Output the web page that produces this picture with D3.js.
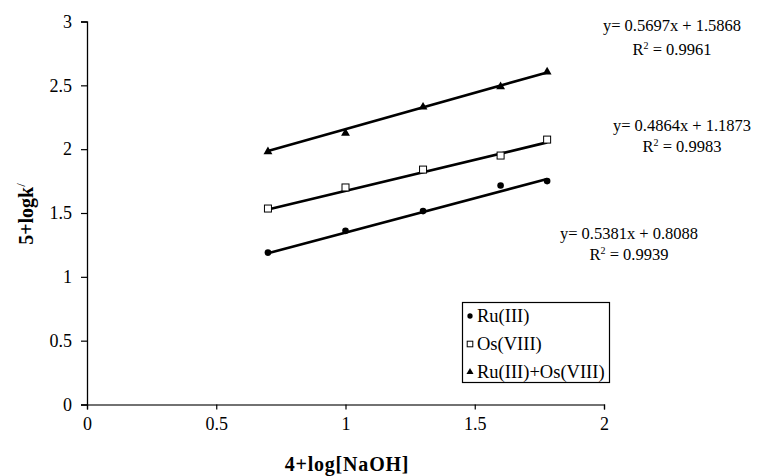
<!DOCTYPE html>
<html><head><meta charset="utf-8">
<script src="https://cdn.jsdelivr.net/npm/d3@7"></script>
<style>body{margin:0;background:#fff}svg{display:block}text{font-family:"Liberation Serif","Times New Roman",serif;fill:#000}</style>
</head><body><svg id="c" width="762" height="476"></svg>
<script>
const xValues = [0.7, 1.0, 1.3, 1.6, 1.78];
const ruIII = [1.19, 1.36, 1.515, 1.715, 1.75];
const osVIII = [1.535, 1.70, 1.84, 1.95, 2.075];
const ruOs = [1.98, 2.125, 2.33, 2.49, 2.605];
const seriesNames = ["Ru(III)", "Os(VIII)", "Ru(III)+Os(VIII)"];
const slopes = [0.5381, 0.4864, 0.5697];
const intercepts = [0.8088, 1.1873, 1.5868];
const eqLabels = ["y= 0.5381x + 0.8088", "y= 0.4864x + 1.1873", "y= 0.5697x + 1.5868"];
const r2Labels = ["0.9939", "0.9983", "0.9961"];
const xTicks = [0, 0.5, 1, 1.5, 2];
const yTicks = [0, 0.5, 1, 1.5, 2, 2.5, 3];

const svg = d3.select("#c");
const x = d3.scaleLinear().domain([0, 2]).range([87, 604]);
const y = d3.scaleLinear().domain([0, 3]).range([404.5, 21.5]);

const xAxis = svg.append("g").attr("transform", `translate(0,${y(0)})`)
  .call(d3.axisBottom(x).tickValues(xTicks).tickFormat(d => String(d)).tickSize(5).tickPadding(8));
const yAxis = svg.append("g").attr("transform", `translate(${x(0)},0)`)
  .call(d3.axisLeft(y).tickValues(yTicks).tickFormat(d => String(d)).tickSize(6).tickPadding(9));
[xAxis, yAxis].forEach(g => {
  g.select(".domain").attr("stroke", "#000").attr("stroke-width", 1.3);
  g.selectAll(".tick line").attr("stroke", "#000").attr("stroke-width", 1.2);
  g.selectAll(".tick text").attr("font-family", "Liberation Serif, serif").attr("font-size", 18).attr("fill", "#000");
});
xAxis.select(".domain").attr("stroke", "#444");

const data = [ruIII, osVIII, ruOs];
data.forEach((s, i) => {
  const x0 = d3.min(xValues), x1 = d3.max(xValues);
  svg.append("line")
    .attr("x1", x(x0)).attr("y1", y(slopes[i] * x0 + intercepts[i]))
    .attr("x2", x(x1)).attr("y2", y(slopes[i] * x1 + intercepts[i]))
    .attr("stroke", "#000").attr("stroke-width", 2.6);
});

function marker(g, type, cx, cy, k) {
  if (type === 0) g.append("circle").attr("cx", cx).attr("cy", cy).attr("r", 3.3 * k).attr("fill", "#000");
  else if (type === 1) g.append("rect").attr("x", cx - 3.5 * k).attr("y", cy - 3.5 * k).attr("width", 7 * k).attr("height", 7 * k).attr("fill", "#fff").attr("stroke", "#000").attr("stroke-width", 1);
  else g.append("path").attr("d", d3.symbol(d3.symbolTriangle, 34 * k * k)()).attr("transform", `translate(${cx},${cy})`).attr("fill", "#000");
}
data.forEach((s, i) => {
  const g = svg.append("g");
  s.forEach((v, j) => marker(g, i, x(xValues[j]), y(v), 1));
});

const eqPos = [[629, 239, 260], [682, 131, 152], [672, 31, 55]];
eqLabels.forEach((t, i) => {
  svg.append("text").attr("x", eqPos[i][0]).attr("y", eqPos[i][1]).attr("text-anchor", "middle").attr("font-size", 16.5).text(t);
  const r = svg.append("text").attr("x", eqPos[i][0]).attr("y", eqPos[i][2]).attr("text-anchor", "middle").attr("font-size", 16.5);
  r.append("tspan").text("R");
  r.append("tspan").attr("dy", -6).attr("font-size", 10).text("2");
  r.append("tspan").attr("dy", 6).text(" = " + r2Labels[i]);
});

const lg = svg.append("g");
lg.append("rect").attr("x", 462.5).attr("y", 302.5).attr("width", 147).attr("height", 80).attr("fill", "#fff").attr("stroke", "#000").attr("stroke-width", 1.2);
seriesNames.forEach((n, i) => {
  const cy = 316 + i * 28;
  marker(lg, i, 470, cy, 0.8);
  lg.append("text").attr("x", 477).attr("y", cy + 6).attr("font-size", 18.5).text(n);
});

svg.append("text").attr("x", 347).attr("y", 471).attr("text-anchor", "middle").attr("font-weight", "bold").attr("font-size", 20).attr("letter-spacing", 0.8).text("4+log[NaOH]");
const yt = svg.append("text").attr("transform", "translate(33,214) rotate(-90)").attr("text-anchor", "middle").attr("font-weight", "bold").attr("font-size", 20);
yt.append("tspan").text("5+logk");
yt.append("tspan").attr("dy", -8).attr("font-size", 13).attr("font-weight", "normal").text("/");
</script></body></html>
